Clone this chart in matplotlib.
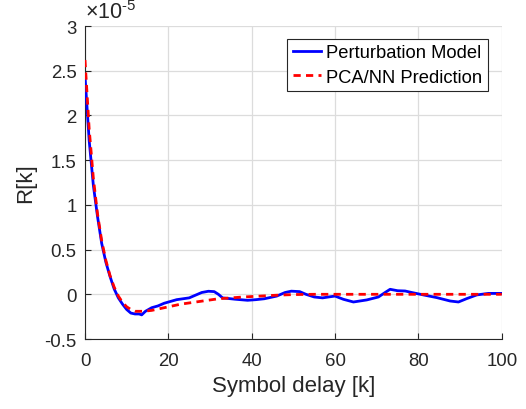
import matplotlib
matplotlib.use('Agg')
import matplotlib.pyplot as plt
from matplotlib.ticker import FuncFormatter

plt.rcParams['font.family'] = ['Liberation Sans', 'DejaVu Sans']
plt.rcParams['mathtext.fontset'] = 'custom'
plt.rcParams['mathtext.rm'] = 'Liberation Sans'
plt.rcParams['mathtext.it'] = 'Liberation Sans'
plt.rcParams['axes.unicode_minus'] = False

# Perturbation model (valeurs en unités de 1e-5)
k_pert = [0, 1, 2, 3, 4, 5, 6, 7, 8, 9, 10, 11, 12, 13, 13.6, 14.5, 16, 17.5, 19,
          20.5, 22, 23.5, 25, 26.5, 28, 29.6, 31, 32, 33, 36, 39, 41, 43, 46, 48,
          49.5, 51.5, 53, 55, 57, 59, 60, 62, 64.4, 67.6, 70.4, 72, 73.2, 75, 76.8,
          78.4, 81.2, 84.4, 87.6, 89.6, 91.6, 94, 96.8, 100]
r_pert = [2.44, 1.72, 1.22, 0.87, 0.57, 0.36, 0.20, 0.06, -0.04, -0.11, -0.17, -0.21,
          -0.22, -0.22, -0.23, -0.19, -0.15, -0.13, -0.10, -0.08, -0.06, -0.05, -0.04,
          -0.01, 0.02, 0.034, 0.03, 0.00, -0.04, -0.055, -0.067, -0.06, -0.05, -0.02,
          0.02, 0.035, 0.03, 0.0, -0.03, -0.04, -0.026, -0.02, -0.056, -0.086, -0.063,
          -0.03, 0.02, 0.056, 0.04, 0.037, 0.02, -0.007, -0.037, -0.075, -0.086,
          -0.048, -0.007, 0.01, 0.01]

# PCA/NN prediction
k_pred = [0, 1, 2, 3, 4, 5, 6, 7, 8, 9, 10, 11, 12, 14, 16, 18, 20, 23, 26, 29, 32,
          35, 38, 42, 46, 50, 55, 60, 70, 80, 90, 100]
r_pred = [2.62, 1.85, 1.30, 0.90, 0.60, 0.38, 0.21, 0.08, -0.02, -0.09, -0.14, -0.17,
          -0.19, -0.19, -0.18, -0.16, -0.14, -0.11, -0.09, -0.07, -0.05, -0.04, -0.03,
          -0.02, -0.01, -0.003, 0, 0, 0, 0, 0, 0]

scale = 1e-5
gris = '#262626'

fig = plt.figure(figsize=(5.26, 4.10), dpi=100)
ax = fig.add_axes([0.1616, 0.1707, 0.7924, 0.7634])

ax.plot(k_pert, [v * scale for v in r_pert], color='#0000ff', lw=2,
        label='Perturbation Model', zorder=3)
ax.plot(k_pred, [v * scale for v in r_pred], color='#ff0000', lw=2,
        dashes=(2.6, 1.9), label='PCA/NN Prediction', zorder=4)

ax.set_xlim(0, 100)
ax.set_ylim(-0.5e-5, 3e-5)
ax.set_xticks([0, 20, 40, 60, 80, 100])
ax.set_yticks([v * scale for v in [-0.5, 0, 0.5, 1, 1.5, 2, 2.5, 3]])
ax.yaxis.set_major_formatter(FuncFormatter(lambda v, p: '%g' % round(v / scale, 3)))

# facteur d'échelle en haut à gauche
ax.text(0.0, 1.01, r'$\times10^{\text{-}5}$', transform=ax.transAxes, fontsize=15.5,
        color=gris, ha='left', va='bottom')

ax.grid(True, color='#dcdcdc', lw=0.9)
ax.set_axisbelow(True)
for s in ['top', 'right']:
    ax.spines[s].set_visible(False)
for s in ['left', 'bottom']:
    ax.spines[s].set_color(gris)
    ax.spines[s].set_linewidth(0.8)
ax.tick_params(direction='in', length=4, labelsize=13.4, colors=gris)
ax.tick_params(axis='x', pad=9)
ax.tick_params(axis='y', pad=6)

ax.set_xlabel('Symbol delay [k]', fontsize=16, color=gris, labelpad=5)
ax.set_ylabel('R[k]', fontsize=16, color=gris, labelpad=6)

leg = ax.legend(loc='upper right', bbox_to_anchor=(0.967, 0.96), fontsize=13.2,
                handlelength=1.55, handletextpad=0.3, borderpad=0.3,
                labelspacing=0.42, borderaxespad=0, fancybox=False, framealpha=1)
leg.get_frame().set_edgecolor(gris)
leg.get_frame().set_linewidth(0.8)

fig.savefig('out.png', dpi=100)
